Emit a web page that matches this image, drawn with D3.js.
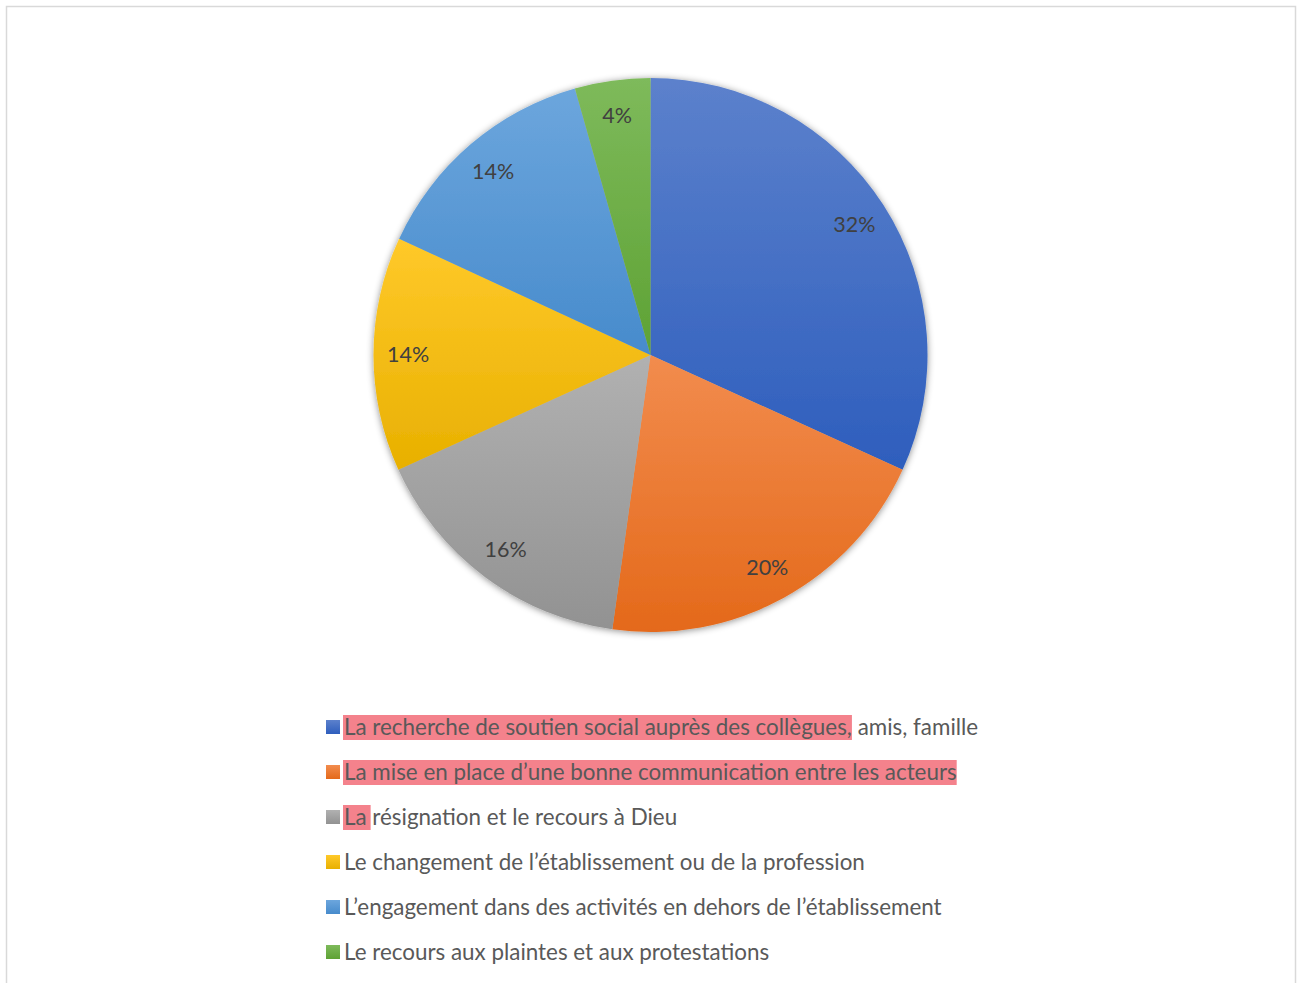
<!DOCTYPE html>
<html><head><meta charset="utf-8">
<script src="https://cdn.jsdelivr.net/npm/d3@7/dist/d3.min.js"></script>
<style>body{margin:0;background:#fff;}svg{display:block;font-family:Lato,"Open Sans",sans-serif;}</style>
</head><body>
<svg id="chart" width="1300" height="983"></svg>
<script>
const categories = [
  "La recherche de soutien social auprès des collègues, amis, famille",
  "La mise en place d’une bonne communication entre les acteurs",
  "La résignation et le recours à Dieu",
  "Le changement de l’établissement ou de la profession",
  "L’engagement dans des activités en dehors de l’établissement",
  "Le recours aux plaintes et aux protestations"
];
const values = [31.8, 20.4, 16.0, 13.7, 13.7, 4.4];
const labels = ["32%", "20%", "16%", "14%", "14%", "4%"];
const highlighted = [
  "La recherche de soutien social auprès des collègues,",
  "La mise en place d’une bonne communication entre les acteurs",
  "La",
  "", "", ""
];
const colorsTop = ["#5c81cc","#f28c4e","#b1b1b1","#ffc92a","#6ca6dd","#7eba5b"];
const colorsBottom = ["#2e5ebd","#e4691a","#929292","#e8b000","#478bcc","#5ea234"];

const svg = d3.select("#chart");
svg.append("rect").attr("x",6.5).attr("y",6.5).attr("width",1289).attr("height",990)
  .attr("fill","#fff").attr("stroke","#d9d9d9").attr("stroke-width",1.5);

const defs = svg.append("defs");
const f = defs.append("filter").attr("id","sh").attr("x","-10%").attr("y","-10%").attr("width","120%").attr("height","120%");
f.append("feDropShadow").attr("dx",0).attr("dy",1).attr("stdDeviation",3.5).attr("flood-color","#000").attr("flood-opacity",0.45);
values.forEach((v,i)=>{
  const g = defs.append("linearGradient").attr("id","g"+i).attr("x1",0).attr("y1",0).attr("x2",0).attr("y2",1);
  g.append("stop").attr("offset","0%").attr("stop-color",colorsTop[i]);
  g.append("stop").attr("offset","100%").attr("stop-color",colorsBottom[i]);
});

const cx = 650.5, cy = 355, R = 277;
const pie = d3.pie().sort(null).value(d=>d);
const arcs = pie(values);
const arc = d3.arc().innerRadius(0).outerRadius(R);
const g = svg.append("g").attr("transform",`translate(${cx},${cy})`);
const pg = g.append("g").attr("filter","url(#sh)");
pg.selectAll("path").data(arcs).join("path")
  .attr("d",arc).attr("fill",(d,i)=>`url(#g${i})`);
const labelArc = d3.arc().innerRadius(R*0.875).outerRadius(R*0.875);
g.selectAll("text.lbl").data(arcs).join("text").attr("class","lbl")
  .attr("x",d=>labelArc.centroid(d)[0]).attr("y",d=>labelArc.centroid(d)[1])
  .attr("text-anchor","middle").attr("dominant-baseline","central")
  .attr("font-size",21.5).attr("fill","#404040")
  .text((d,i)=>labels[i]);

// legend
const lg = svg.append("g");
const legendY = d3.scalePoint().domain(d3.range(categories.length)).range([727,952]);
categories.forEach((c,i)=>{
  const y = legendY(i);
  lg.append("rect").attr("x",326).attr("y",y-7).attr("width",14).attr("height",14)
    .attr("fill",`url(#g${i})`);
  const t = lg.append("text").attr("x",344).attr("y",y-1).attr("dominant-baseline","central")
    .attr("font-size",22.4).attr("fill","#595959").text(c);
  const h = highlighted[i];
  if (h) {
    const w = t.node().getSubStringLength(0, h.length);
    lg.insert("rect", () => t.node()).attr("x",343).attr("y",y-12).attr("width",w+ (h.length<5?5:1)).attr("height",25)
      .attr("fill","#f4828c");
  }
});
</script>
</body></html>
